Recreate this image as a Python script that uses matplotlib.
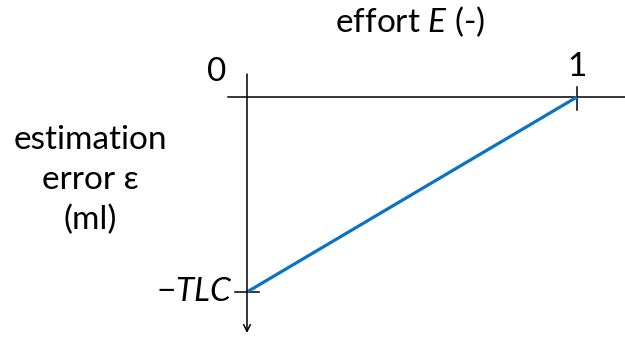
import numpy as np
import matplotlib.pyplot as plt

# data: estimation error falls linearly from -TLC at E=0 to 0 at E=1
effort = [0, 1]
error = [-1, 0]          # in units of TLC
tick_labels_x = ["0", "1"]
y_label_text = "estimation\nerror ε\n(ml)"

plt.rcParams["font.family"] = ["Lato", "DejaVu Sans"]
plt.rcParams["mathtext.fontset"] = "custom"
plt.rcParams["mathtext.rm"] = "Lato"
plt.rcParams["mathtext.it"] = "Lato:italic"

FS = 24

fig = plt.figure(figsize=(6.25, 3.38), dpi=100)
ax = fig.add_axes([0, 0, 1, 1])
ax.set_xlim(-247 / 330, (625 - 247) / 330)
ax.set_ylim(-(338 - 97) / 195, 97 / 195)
ax.axis("off")

# axes drawn by hand
ax.plot([-19 / 330, (625 - 247) / 330], [0, 0], color="black", lw=1.1)
ax.annotate("", xy=(0, -(333 - 97) / 195), xytext=(0, 23 / 195),
            arrowprops=dict(arrowstyle="->", color="black", lw=1.1,
                            mutation_scale=12, shrinkA=0, shrinkB=0))

# ticks
ax.plot([1, 1], [10 / 195, -13 / 195], color="black", lw=1.1)
ax.plot([-12 / 330, 12 / 330], [-1, -1], color="black", lw=1.1)

# data line
ax.plot(effort, error, color="#0B72C4", lw=2.3, solid_capstyle="butt")

# labels
ax.text(-30 / 330, 25 / 195, tick_labels_x[0], fontsize=FS, ha="center", va="center")
ax.text(1, 30 / 195, tick_labels_x[1], fontsize=FS, ha="center", va="center")
ax.text(-14 / 330, -1, r"$-\mathit{TLC}$", fontsize=FS, ha="right", va="center")
ax.text(163 / 330, 75 / 195, "effort $\\mathit{E}$ (-)", fontsize=FS,
        ha="center", va="center")
ax.text(-157 / 330, -83 / 195, y_label_text, fontsize=FS, ha="center",
        va="center", linespacing=1.4)

fig.savefig("out.png", dpi=100)
